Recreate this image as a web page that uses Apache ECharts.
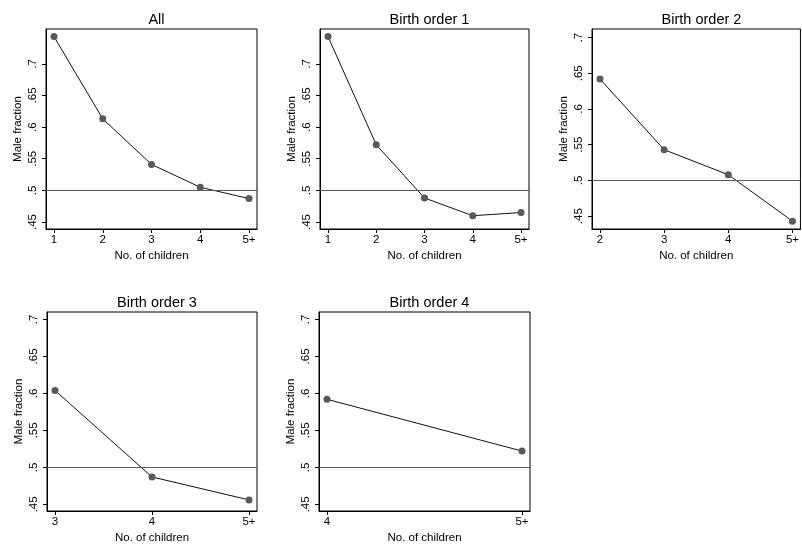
<!DOCTYPE html>
<html>
<head>
<meta charset="utf-8">
<script src="https://cdn.jsdelivr.net/npm/echarts@6/dist/echarts.min.js"></script>
<style>
  html, body { margin: 0; padding: 0; background: #fff; }
  #chart { width: 802px; height: 547px; }
</style>
</head>
<body>
<div id="chart"></div>
<script>
// panel titles
const titles = ['All', 'Birth order 1', 'Birth order 2', 'Birth order 3', 'Birth order 4']

// x categories per panel (number of children)
const catsAll = ['1', '2', '3', '4', '5+']
const catsBo1 = ['1', '2', '3', '4', '5+']
const catsBo2 = ['2', '3', '4', '5+']
const catsBo3 = ['3', '4', '5+']
const catsBo4 = ['4', '5+']

// male fraction per panel
const maleAll = [0.743, 0.613, 0.541, 0.505, 0.487]
const maleBo1 = [0.743, 0.572, 0.488, 0.460, 0.465]
const maleBo2 = [0.642, 0.543, 0.508, 0.443]
const maleBo3 = [0.604, 0.487, 0.456]
const maleBo4 = [0.592, 0.522]

// y tick labels
const yTicks = [0.45, 0.5, 0.55, 0.6, 0.65, 0.7]
const refLine = 0.5

const panels = [
  { cats: catsAll, vals: maleAll, box: [46, 29, 211, 200], y: [0.439, 0.755] },
  { cats: catsBo1, vals: maleBo1, box: [320, 29, 209, 200], y: [0.439, 0.755] },
  { cats: catsBo2, vals: maleBo2, box: [592, 29, 209, 200], y: [0.432, 0.712] },
  { cats: catsBo3, vals: maleBo3, box: [47, 312, 210, 199], y: [0.441, 0.710] },
  { cats: catsBo4, vals: maleBo4, box: [319, 312, 211, 199], y: [0.441, 0.710] },
]

const font = 'Liberation Sans, Arial, Helvetica, sans-serif'
const fmtY = (v) => v.toFixed(2).replace(/0+$/, '').replace(/^0/, '')

const chart = echarts.init(document.getElementById('chart'), null, { renderer: 'canvas' })

const grid = [], xAxis = [], yAxis = [], series = [], title = []

panels.forEach((p, i) => {
  const [left, top, width, height] = p.box
  const n = p.cats.length
  const pad = 8 * (n - 1) / (width - 16)
  const idx = p.cats.map((_, k) => k)

  grid.push({ left, top, width, height, show: true, borderColor: '#000', borderWidth: 1, containLabel: false })

  title.push({
    text: titles[i],
    left: left + width / 2,
    top: top - 22,
    textAlign: 'center',
    textStyle: { fontFamily: font, fontSize: 14.5, fontWeight: 'normal', color: '#000' },
  })

  xAxis.push({
    type: 'value',
    gridIndex: i,
    min: -pad,
    max: n - 1 + pad,
    name: 'No. of children',
    nameLocation: 'middle',
    nameGap: 21,
    nameTextStyle: { fontFamily: font, fontSize: 11.5, color: '#000' },
    axisLine: { show: true, onZero: false, lineStyle: { color: '#000', width: 1 } },
    axisTick: { show: true, inside: false, length: 4, customValues: idx, lineStyle: { color: '#000' } },
    axisLabel: {
      show: true,
      margin: 5,
      customValues: idx,
      fontFamily: font,
      fontSize: 11.5,
      color: '#000',
      formatter: (v) => p.cats[Math.round(v)],
    },
    splitLine: { show: false },
  })

  yAxis.push({
    type: 'value',
    gridIndex: i,
    min: p.y[0],
    max: p.y[1],
    name: 'Male fraction',
    nameLocation: 'middle',
    nameRotate: 90,
    nameGap: 22,
    nameTextStyle: { fontFamily: font, fontSize: 11.5, color: '#000' },
    axisLine: { show: true, onZero: false, lineStyle: { color: '#000', width: 1 } },
    axisTick: { show: true, inside: false, length: 4, customValues: yTicks, lineStyle: { color: '#000' } },
    axisLabel: {
      show: true,
      rotate: 90,
      margin: 7,
      customValues: yTicks,
      fontFamily: font,
      fontSize: 11.5,
      color: '#000',
      formatter: fmtY,
    },
    splitLine: { show: false },
  })

  series.push({
    type: 'line',
    xAxisIndex: i,
    yAxisIndex: i,
    data: p.vals.map((v, k) => [k, v]),
    symbol: 'circle',
    symbolSize: 7,
    itemStyle: { color: '#595959' },
    lineStyle: { color: '#111', width: 1 },
    animation: false,
    markLine: {
      silent: true,
      symbol: 'none',
      label: { show: false },
      lineStyle: { color: '#5a5a5a', width: 1, type: 'solid' },
      data: [{ yAxis: refLine }],
      animation: false,
    },
  })
})

chart.setOption({ animation: false, title, grid, xAxis, yAxis, series })
</script>
</body>
</html>
